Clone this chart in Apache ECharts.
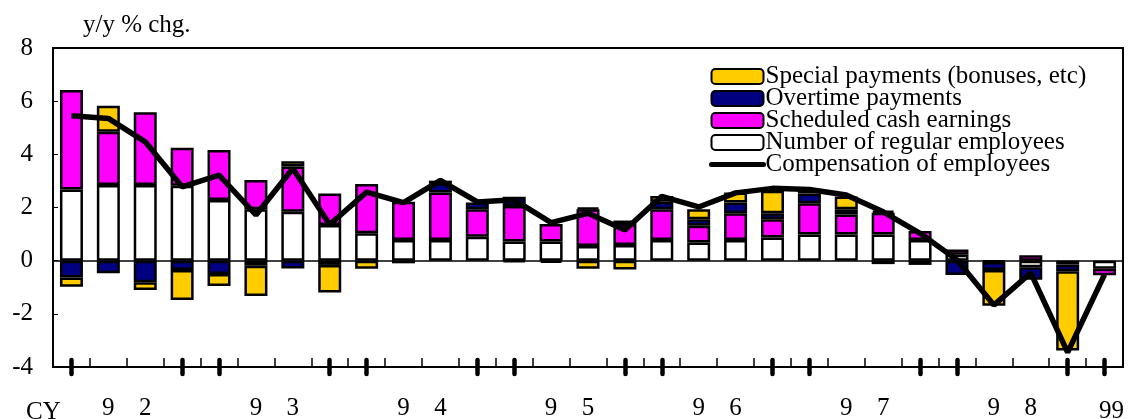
<!DOCTYPE html>
<html>
<head>
<meta charset="utf-8">
<script src="https://cdn.jsdelivr.net/npm/echarts@6/dist/echarts.min.js"></script>
<style>
  html, body { margin: 0; padding: 0; background: #fff; }
  #chart { width: 1130px; height: 419px; }
</style>
</head>
<body>
<div id="chart"></div>
<script>
// Quarterly contributions to y/y % change in compensation of employees, 1992Q1 - 1999Q1
const quarters = [
  '1992Q1', '1992Q2', '1992Q3', '1992Q4',
  '1993Q1', '1993Q2', '1993Q3', '1993Q4',
  '1994Q1', '1994Q2', '1994Q3', '1994Q4',
  '1995Q1', '1995Q2', '1995Q3', '1995Q4',
  '1996Q1', '1996Q2', '1996Q3', '1996Q4',
  '1997Q1', '1997Q2', '1997Q3', '1997Q4',
  '1998Q1', '1998Q2', '1998Q3', '1998Q4',
  '1999Q1'
];

// Axis text under each quarter (year digits are spread across Q2 and Q3)
const tickLabels = [
  '', '9', '2', '',
  '', '9', '3', '',
  '', '9', '4', '',
  '', '9', '5', '',
  '', '9', '6', '',
  '', '9', '7', '',
  '', '9', '8', '',
  '99'
];

const yTicks = [-4, -2, 0, 2, 4, 6, 8];

const employees = [2.68, 2.85, 2.85, 2.82, 2.28, 1.93, 1.84, 1.34, 1.03, 0.78, 0.78, 0.90, 0.72, 0.72, 0.55, 0.59,
  0.78, 0.68, 0.78, 0.87, 0.98, 0.98, 0.98, 0.78, 0.22, -0.05, -0.25, -0.15, -0.30];
const scheduled = [3.74, 2.00, 2.73, 1.43, 1.88, 1.10, 1.70, 1.19, 1.85, 1.44, 1.78, 1.03, 1.34, 0.66, 1.38, 0.79,
  1.15, 0.63, 1.00, 0.69, 1.18, 0.76, 0.82, 0.34, 0.20, 0, 0.20, 0, -0.25];
const overtime = [-0.63, -0.47, -0.81, -0.35, -0.50, -0.19, -0.29, -0.16, 0, 0, 0.35, 0.26, 0.34, 0, 0.07, 0.13,
  0.29, 0.25, 0.41, 0.22, 0.37, 0.19, 0.08, 0, -0.54, -0.30, -0.47, -0.25, 0];
const special = [-0.35, 0.98, -0.29, -1.13, -0.45, -1.14, 0.20, -1.04, -0.30, -0.10, 0.10, 0, -0.05, -0.08, -0.30, -0.33,
  0.21, 0.37, 0.37, 0.85, 0.10, 0.48, -0.13, -0.16, 0, -1.35, 0, -2.98, 0];
const compensation = [5.45, 5.35, 4.47, 2.78, 3.22, 1.72, 3.47, 1.36, 2.58, 2.18, 3.02, 2.21, 2.29, 1.43, 1.78, 1.15,
  2.42, 2.02, 2.55, 2.72, 2.68, 2.47, 1.84, 1.03, 0.03, -1.67, -0.46, -3.45, -0.52];

const FONT = "'Liberation Serif', 'Times New Roman', serif";

// zero contributions are left out so no empty boxes are drawn
const nz = arr => arr.map(v => (v === 0 ? '-' : v));

function barSeries(name, data, color) {
  return {
    name: name,
    type: 'bar',
    stack: 'total',
    barWidth: 23,
    data: nz(data),
    itemStyle: { color: color, borderColor: '#000', borderWidth: 2.5 },
    z: 2
  };
}

const chart = echarts.init(document.getElementById('chart'), null, { renderer: 'canvas' });

chart.setOption({
  animation: false,
  backgroundColor: '#fff',
  textStyle: { fontFamily: FONT, color: '#000' },
  grid: {
    left: 53, right: 7, top: 48, bottom: 52,
    containLabel: false,
    outerBoundsMode: 'none',
    show: true, borderColor: '#000', borderWidth: 2, backgroundColor: 'transparent'
  },
  legend: {
    left: 704, top: 59,
    orient: 'vertical',
    itemWidth: 52, itemHeight: 15,
    itemGap: -3,
    data: [
      'Special payments (bonuses, etc)',
      'Overtime payments',
      'Scheduled cash earnings',
      'Number of regular employees',
      {
        name: 'Compensation of employees',
        itemStyle: { opacity: 0 },
        lineStyle: { width: 5, color: '#000', cap: 'round' }
      }
    ],
    textStyle: { fontFamily: FONT, fontSize: 25, color: '#000', lineHeight: 22, padding: [0, 0, 0, -3] }
  },
  xAxis: [
    {
      type: 'category',
      data: quarters,
      position: 'bottom',
      boundaryGap: true,
      axisLine: { show: true, onZero: false, lineStyle: { color: '#000', width: 2 } },
      axisTick: { show: false },
      axisLabel: {
        interval: 0,
        margin: 29,
        fontFamily: FONT, fontSize: 25, color: '#000',
        formatter: (val, idx) => {
          const t = tickLabels[idx];
          if (!t) return '';
          return t.length > 1 ? '{late|' + t + '}' : t;
        },
        rich: { late: { fontFamily: FONT, fontSize: 25, color: '#000', padding: [3, 0, 0, 14] } }
      },
      splitLine: { show: false }
    },
    {
      // thin ticks at every quarter boundary
      type: 'value',
      position: 'bottom',
      min: 0,
      max: quarters.length,
      interval: 1,
      axisLine: { show: false, onZero: false },
      axisLabel: { show: false },
      axisTick: { show: true, inside: true, length: 9, lineStyle: { color: '#000', width: 1.5 } },
      splitLine: { show: false }
    },
    {
      // year-end markers straddling the baseline
      type: 'category',
      data: quarters,
      position: 'bottom',
      offset: 7,
      boundaryGap: true,
      axisLine: { show: false, onZero: false },
      axisLabel: { show: false },
      axisTick: {
        show: true, inside: true, length: 14, alignWithLabel: true,
        interval: (idx) => idx % 4 === 0 || idx % 4 === 3,
        lineStyle: { color: '#000', width: 4.5, cap: 'round' }
      },
      splitLine: { show: false }
    }
  ],
  yAxis: {
    type: 'value',
    min: yTicks[0],
    max: yTicks[yTicks.length - 1],
    interval: 2,
    axisLine: { show: true, onZero: false, lineStyle: { color: '#000', width: 2 } },
    axisTick: { show: true, inside: true, length: 5, lineStyle: { color: '#000', width: 1 } },
    axisLabel: { margin: 20, fontFamily: FONT, fontSize: 25, color: '#000' },
    splitLine: { show: false }
  },
  graphic: [
    { type: 'text', left: 83, top: 13, style: { text: 'y/y % chg.', font: '25px ' + FONT, fill: '#000' } },
    { type: 'text', left: 26, top: 400, style: { text: 'CY', font: '25px ' + FONT, fill: '#000' } }
  ],
  series: [
    barSeries('Number of regular employees', employees, '#FFFFFF'),
    barSeries('Scheduled cash earnings', scheduled, '#FF00FF'),
    barSeries('Overtime payments', overtime, '#000080'),
    barSeries('Special payments (bonuses, etc)', special, '#FFCC00'),
    {
      name: 'Compensation of employees',
      type: 'line',
      data: compensation,
      symbol: 'none',
      lineStyle: { color: '#000', width: 5.5 },
      itemStyle: { color: '#000' },
      z: 5,
      markLine: {
        silent: true,
        symbol: 'none',
        label: { show: false },
        lineStyle: { color: '#000', width: 1.5, type: 'solid' },
        data: [{ yAxis: 0 }],
        z: 1
      }
    }
  ]
});
</script>
</body>
</html>
